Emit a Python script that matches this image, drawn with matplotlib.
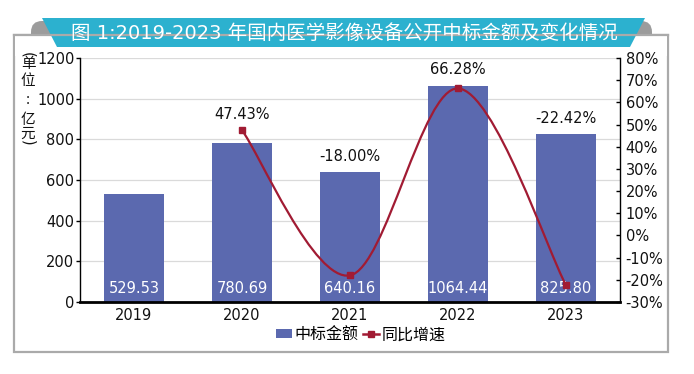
import matplotlib
matplotlib.use("Agg")
import matplotlib.pyplot as plt
from matplotlib.patches import Polygon, Rectangle, FancyBboxPatch, PathPatch
from matplotlib.path import Path
from matplotlib.lines import Line2D
import numpy as np

# ---------------- data ----------------
years = ["2019", "2020", "2021", "2022", "2023"]
amounts = [529.53, 780.69, 640.16, 1064.44, 825.80]          # 中标金额 (亿元)
growth_years = ["2020", "2021", "2022", "2023"]
growth = [47.43, -18.00, 66.28, -22.42]                       # 同比增速 (%)
left_ticks = [0, 200, 400, 600, 800, 1000, 1200]
right_ticks = [-30, -20, -10, 0, 10, 20, 30, 40, 50, 60, 70, 80]
title = "图 1:2019-2023 年国内医学影像设备公开中标金额及变化情况"
series_names = ["中标金额", "同比增速"]
unit_chars = ["单", "位", ":", "亿", "元"]

# ---------------- fonts ----------------
FAM = ["DejaVu Sans", "Noto Sans CJK SC"]
CJK = ["Noto Sans CJK SC", "DejaVu Sans"]
plt.rcParams["font.family"] = FAM

BAR = "#5B69AF"
RED = "#A11B33"
TEAL = "#2CB1CF"
TXT = "#111111"
W, H = 694, 374

fig = plt.figure(figsize=(W / 100, H / 100), dpi=100)

# background decoration axes in pixel coords
bg = fig.add_axes([0, 0, 1, 1], zorder=0)
bg.set_xlim(0, W)
bg.set_ylim(H, 0)
bg.axis("off")
bg.add_patch(Rectangle((14, 35), 654, 317, facecolor="white", edgecolor="#AAAAAA", lw=1.6))
bg.add_patch(FancyBboxPatch((31, 21), 621, 30, boxstyle="round,pad=0,rounding_size=11",
                            facecolor="#9C9C9C", edgecolor="none"))
bg.add_patch(Rectangle((14.8, 35.8), 652.4, 20, facecolor="white", edgecolor="none"))
bg.plot([14, 668], [35, 35], color="#AAAAAA", lw=1.6)
bg.add_patch(Polygon([(42, 18), (645, 18), (630, 47), (57, 47)], closed=True,
                     facecolor=TEAL, edgecolor="none"))
bg.text(344, 33, title, color="white", fontsize=14, ha="center", va="center",
        family=FAM)
# vertical unit label (stacked characters)
bg.text(28, 55, "(", rotation=-90, fontsize=10.5, ha="center", va="center",
        family="DejaVu Sans", color=TXT)
for ch, yy in zip(unit_chars, [64, 81, 100, 120, 134]):
    bg.text(28, yy, ch, fontsize=10.5, ha="center", va="center", family=CJK, color=TXT)
bg.text(28, 143, ")", rotation=-90, fontsize=10.5, ha="center", va="center",
        family="DejaVu Sans", color=TXT)

# main axes
ax = fig.add_axes([80 / W, 1 - 302 / H, 540 / W, 244 / H], zorder=2)
ax.set_facecolor("none")
x = np.arange(len(years))
ax.bar(x, amounts, width=0.56, color=BAR, zorder=2)
ax.set_ylim(0, 1200)
ax.set_xlim(-0.5, len(years) - 0.5)
ax.set_yticks(left_ticks)
ax.set_xticks(x)
ax.set_xticklabels(years)
ax.grid(axis="y", color="#DADADA", lw=0.9, zorder=0)
ax.set_axisbelow(True)
for s in ["top", "right"]:
    ax.spines[s].set_visible(False)
ax.spines["left"].set_color("black")
ax.spines["left"].set_linewidth(1.0)
ax.spines["bottom"].set_color("black")
ax.spines["bottom"].set_linewidth(2.0)
ax.tick_params(axis="y", direction="out", length=3, width=1, labelsize=10.5, pad=1,
               labelcolor=TXT)
ax.tick_params(axis="x", length=0, labelsize=10.5, pad=4, labelcolor=TXT)

for xi, v in zip(x, amounts):
    ax.annotate(f"{v:.2f}", (xi, 0), xytext=(0, 4), textcoords="offset points",
                ha="center", va="bottom", color="white", fontsize=10.5, zorder=4)

ax2 = ax.twinx()
ax2.set_ylim(-30, 80)
ax2.set_yticks(right_ticks)
ax2.set_yticklabels([f"{t}%" for t in right_ticks])
for s in ["top", "left", "bottom"]:
    ax2.spines[s].set_visible(False)
ax2.spines["right"].set_color("black")
ax2.spines["right"].set_linewidth(1.0)
ax2.tick_params(axis="y", direction="in", length=3, width=1, labelsize=10.5, pad=4,
                labelcolor=TXT)

gx = np.array([years.index(g) for g in growth_years], dtype=float)
gy = np.array(growth, dtype=float)
pts = np.column_stack([gx, gy])
n = len(pts)
verts = [tuple(pts[0])]
codes = [Path.MOVETO]
for i in range(n - 1):
    p0 = pts[i - 1] if i > 0 else pts[i]
    p1 = pts[i]
    p2 = pts[i + 1]
    p3 = pts[i + 2] if i + 2 < n else pts[i + 1]
    c1 = p1 + (p2 - p0) / 6.0
    c2 = p2 - (p3 - p1) / 6.0
    verts += [tuple(c1), tuple(c2), tuple(p2)]
    codes += [Path.CURVE4] * 3
ax2.add_patch(PathPatch(Path(verts, codes), facecolor="none", edgecolor=RED, lw=1.6, zorder=3))
ax2.plot(gx, gy, linestyle="none", marker="s", markersize=5, color=RED, zorder=4)

# percentage labels above max(bar top, point)
for xi, g in zip(gx, gy):
    bar_top = -30 + amounts[int(xi)] / 1200 * 110
    ypos = max(bar_top, g)
    ax2.annotate(f"{g:.2f}%", (xi, ypos), xytext=(0, 6), textcoords="offset points",
                 ha="center", va="bottom", fontsize=10.5, color=TXT, zorder=5)

handles = [Rectangle((0, 0), 1, 1, facecolor=BAR, edgecolor="none"),
           Line2D([], [], color=RED, lw=1.8, marker="s", markersize=4)]
fig.legend(handles, series_names, loc="center", bbox_to_anchor=(361 / W, 1 - 335 / H),
           ncol=2, frameon=False, handlelength=1.0, handleheight=0.5, handletextpad=0.15,
           columnspacing=0.3, prop={"family": CJK, "size": 11.5})

fig.savefig("out.png", dpi=100)
